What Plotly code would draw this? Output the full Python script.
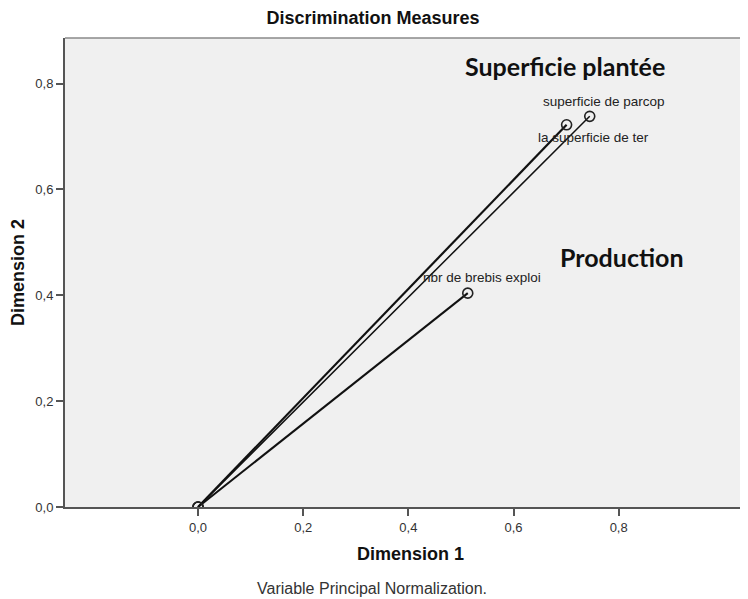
import plotly.graph_objects as go

variables = ["superficie de parcop", "la superficie de ter", "nbr de brebis exploi"]
dim1 = [0.745, 0.701, 0.513]
dim2 = [0.738, 0.722, 0.404]
line_widths = [1.5, 2.2, 2.0]
label_shift_x = [14, 27, 14]
label_shift_y = [15, -13, 16]

x_ticks = [0.0, 0.2, 0.4, 0.6, 0.8]
y_ticks = [0.0, 0.2, 0.4, 0.6, 0.8]

groups = ["Superficie plantée", "Production"]
group_x = [0.698, 0.806]
group_y = [0.834, 0.472]

small_font = "Liberation Sans, Arial, sans-serif"

# page has an 8px body margin
W, H = 748, 591
ML, MR, MT, MB = 57, 0, 29.5, 92
PW, PH = W - ML - MR, H - MT - MB
XMAX = 1.046 + 8 / 526.0

fig = go.Figure()
for name, x, y, lw in zip(variables, dim1, dim2, line_widths):
    fig.add_trace(go.Scatter(
        x=[0, x], y=[0, y], mode="lines+markers", name=name,
        line=dict(color="#111111", width=lw),
        marker=dict(symbol="circle-open", size=10, color="#222222",
                    line=dict(width=1.6, color="#222222")),
        showlegend=False, hoverinfo="skip"))

for name, x, y, sx, sy in zip(variables, dim1, dim2, label_shift_x, label_shift_y):
    fig.add_annotation(x=x, y=y, text=name, showarrow=False, xshift=sx, yshift=sy,
                       font=dict(family=small_font, size=13.5, color="#222222"))

for g, x, y in zip(groups, group_x, group_y):
    fig.add_annotation(x=x, y=y, text="<b>" + g + "</b>", showarrow=False,
                       font=dict(family="Lato, Open Sans, sans-serif", size=25, color="#111111"))

fig.add_shape(type="line", xref="paper", yref="paper", x0=0, x1=1, y0=1, y1=1,
              line=dict(color="#8a8a8a", width=1.5))

fig.add_annotation(xref="paper", yref="paper", x=(372 - 8 - ML) / PW, y=-(581 - (H - MB)) / PH,
                   xanchor="center", yanchor="middle",
                   text="Variable Principal Normalization.", showarrow=False,
                   font=dict(family=small_font, size=16, color="#333333"))

fig.update_layout(
    width=W, height=H,
    margin=dict(l=ML, r=MR, t=MT, b=MB),
    paper_bgcolor="white", plot_bgcolor="#f0f0f0",
    separators=",.",
    title=dict(text="<b>Discrimination Measures</b>", x=(373 - 8) / W, xanchor="center",
               y=1 - 10 / H, yanchor="middle",
               font=dict(family=small_font, size=18, color="#111111")),
    xaxis=dict(range=[-0.253, XMAX], tickvals=x_ticks, tickformat=".1f",
               showgrid=False, zeroline=False, showline=True, linecolor="#555555", linewidth=2,
               ticks="outside", ticklen=7, tickwidth=1.5, tickcolor="#555555",
               tickfont=dict(family=small_font, size=13, color="#333333"),
               title=dict(text="<b>Dimension 1</b>", standoff=14,
                          font=dict(family=small_font, size=18, color="#111111"))),
    yaxis=dict(range=[0, 0.886], tickvals=y_ticks, tickformat=".1f",
               showgrid=False, zeroline=False, showline=True, linecolor="#555555", linewidth=2,
               ticks="outside", ticklen=7, tickwidth=1.5, tickcolor="#555555",
               tickfont=dict(family=small_font, size=13, color="#333333"),
               title=dict(text="<b>Dimension 2</b>", standoff=7,
                          font=dict(family=small_font, size=18, color="#111111"))),
)

fig.write_html("out.html")
